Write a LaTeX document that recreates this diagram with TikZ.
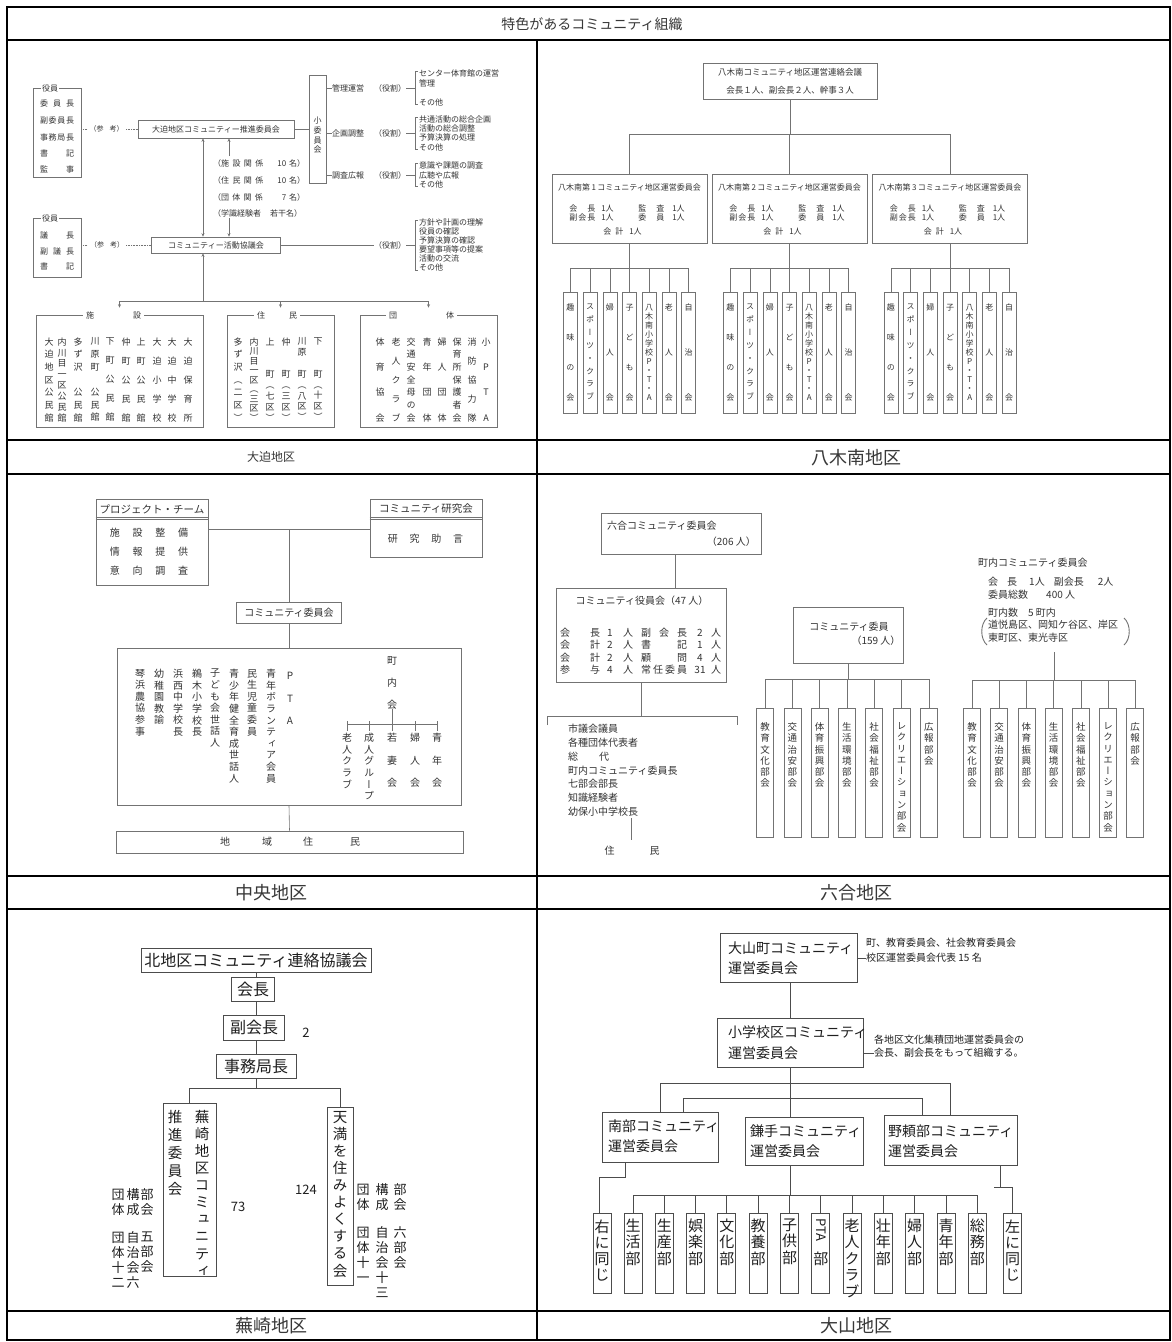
\documentclass[tikz,border=0pt]{standalone}
\usepackage{fontspec}
\setmainfont{Noto Sans CJK JP}
\newfontfamily\vjp[RawFeature=+vert]{Noto Sans CJK JP}
\usetikzlibrary{arrows.meta}
\definecolor{lnc}{gray}{0.45}
\definecolor{txc}{gray}{0.2}
\definecolor{lnc2}{gray}{0.3}
\definecolor{txc2}{gray}{0.12}
\definecolor{capc}{gray}{0.22}
\def\vsend{VSEND}
\protected\def\gp{\hbox{}}
\newcount\vcn
\def\vcount#1{\global\vcn=0 \vcountA#1\vsend}
\def\vcountA#1{\ifx#1\vsend\else\global\advance\vcn by 1 \expandafter\vcountA\fi}
\def\vcsplit#1{\vcsplitA#1\vsend}
\def\vcsplitA#1#2{#1\ifx#2\vsend\else\\\expandafter\vcsplitA\expandafter#2\fi}
\def\justA#1#2{#1\ifx#2\vsend\else\hfill\expandafter\justA\expandafter#2\fi}
\newcommand\justB[2]{\makebox[#2][s]{\justA#1\vsend}}
\newcommand\just[2]{\edef\jtmp{#2}\expandafter\justB\expandafter{\jtmp}{#1}}
\newcommand\vcolB[6]{\edef\vctmp{#6}%
  \node[vt, font={\vjp\fontsize{#5}{#4}\selectfont\lineskiplimit=-50pt\lineskip=0pt}, anchor=north] (#1) at ({#2},{#3-0.5*(#5)}) {\expandafter\vcsplit\expandafter{\vctmp}};}
\newcommand\vcol[6]{\edef\vctmp{#6}%
  \expandafter\vcount\expandafter{\vctmp}%
  \pgfmathsetmacro\vbs{((#4)-(#3))/max(\the\vcn-1,1)}%
  \vcolB{#1}{#2}{#3}{\vbs}{#5}{#6}}
\tikzset{
  fs/.style={font=\fontsize{#1}{#1}\selectfont},
  ln/.style={draw=lnc, line width=0.6pt},
  ln2/.style={draw=lnc2, line width=0.9pt},
  bx/.style={draw=lnc, line width=0.6pt, inner sep=0pt},
  bx2/.style={draw=lnc2, line width=0.9pt, inner sep=0pt},
  tt/.style={inner sep=0pt},
  vt/.style={inner sep=0pt, align=center},
  grid/.style={draw=black, line width=1.3pt},
  captxt/.style={inner sep=0pt, text=capc},
  >={Stealth[length=3.5pt,width=3pt]},
}
\begin{document}
\begin{tikzpicture}[x=1pt,y=-1pt]
\useasboundingbox (0,0) rectangle (1172,1342);
\fill[white] (0,0) rectangle (1172,1342);

\begin{scope}[every node/.style={text=txc}]
%================ Panel 1 : 大迫地区 ================
\node[bx, minimum width=48pt, minimum height=89pt] (yk1) at (57,132.5) {};
\node[tt, fill=white, fs=8, inner xsep=1pt] (yk1t) at (50,88) {役員};
\foreach \t/\y [count=\i] in {委員長/103, 副委員長/120, 事務局長/137, 書記/153, 監事/169}
  \node[tt, fs=8] (yka\i) at (57,\y) {\just{34pt}{\t}};
\node[bx, fs=8, minimum width=156pt, minimum height=18pt] (b1) at (216,129) {大迫地区コミュニティー推進委員会};
\draw[ln, densely dotted] (yk1.east |- b1.west) -- node[pos=0.45, tt, fill=white, fs=7, inner xsep=2pt] {（参\hspace{6pt}考）} (b1.west);

\node[bx, minimum width=17pt, minimum height=108pt] (sc) at (317.5,129) {};
\vcol{scv}{317.5}{121}{150}{8}{小委員会}
\draw[ln] (b1.east) -- (sc.west);
\foreach \y/\a in {88/管理運営, 133/企画調整, 175/調査広報} {
  \draw[ln] (sc.east |- 0,\y) -- (332,\y);
  \node[tt, fs=8] at (348,\y) {\a};
  \node[tt, fs=8] at (390,\y) {（役割）};
  \draw[ln] (406,\y) -- (415,\y);
}
\foreach \ya/\yb in {71/104, 117/149, 163/186, 220/270}
  \draw[ln] (418,\ya) -- (415,\ya) -- (415,\yb) -- (418,\yb);
\foreach \t/\y in {センター体育館の運営/73, 管理/83, その他/102, 共通活動の総合企画/119, 活動の総合調整/128, 予算決算の処理/137, その他/147, 意識や課題の調査/165, 広聴や広報/175, その他/184, 方針や計画の理解/222, 役員の確認/231, 予算決算の確認/240, 要望事項等の提案/249, 活動の交流/258, その他/267}
  \node[tt, fs=8, anchor=west] at (419,\y) {\t};

\node[tt, fs=8, anchor=west] (m1) at (213,163) {\makebox[92pt][s]{（施\hfill 設\hfill 関\hfill 係\hspace{14pt}10\hspace{3pt}名）}};
\node[tt, fs=8, anchor=west] (m2) at (213,180) {\makebox[92pt][s]{（住\hfill 民\hfill 関\hfill 係\hspace{14pt}10\hspace{3pt}名）}};
\node[tt, fs=8, anchor=west] (m3) at (213,197) {\makebox[92pt][s]{（団\hfill 体\hfill 関\hfill 係\hspace{19pt}7\hspace{3pt}名）}};
\node[tt, fs=8, anchor=west] (m4) at (213,213) {（学識経験者\hspace{9pt}若干名）};

\node[bx, fs=8, minimum width=129pt, minimum height=16pt] (b2) at (216,245) {コミュニティー活動協議会};
\draw[ln,<->] ([xshift=-13pt]b1.south) -- ([xshift=-13pt]b2.north);
\draw[ln,->] (229,156) -- ([xshift=13pt]b1.south);
\draw[ln,->] (229,218) -- ([xshift=13pt]b2.north);

\node[bx, minimum width=48pt, minimum height=59pt] (yk2) at (57,247.5) {};
\node[tt, fill=white, fs=8, inner xsep=1pt] (yk2t) at (50,218) {役員};
\foreach \t/\y [count=\i] in {議長/235, 副議長/251, 書記/266}
  \node[tt, fs=8] (ykb\i) at (57,\y) {\just{34pt}{\t}};
\draw[ln, densely dotted] (yk2.east |- b2.west) -- node[pos=0.37, tt, fill=white, fs=7, inner xsep=2pt] {（参\hspace{6pt}考）} (b2.west);
\draw[ln] (b2.east) -- (374,245);
\node[tt, fs=8] at (390,245) {（役割）};
\draw[ln] (406,245) -- (415,245);

\node[bx, minimum width=167pt, minimum height=112pt] (sets) at (119.5,371) {};
\node[bx, minimum width=107pt, minimum height=112pt] (jum) at (280.5,371) {};
\node[bx, minimum width=137pt, minimum height=112pt] (dan) at (428.5,371) {};
\node[tt, fs=8, fill=white, inner xsep=3pt] (setst) at (113.5,315) {施\hspace{39pt}設};
\node[tt, fs=8, fill=white, inner xsep=3pt] (jumt) at (277,315) {住\hspace{24pt}民};
\node[tt, fs=8, fill=white, inner xsep=3pt] (dant) at (421.5,315) {団\hspace{49pt}体};
\coordinate (hb) at (203,301);
\draw[ln,<-] ([xshift=-13pt]b2.south) -- (hb);
\draw[ln] (sets.north |- hb) -- (dan.north |- hb);
\foreach \b in {sets,jum,dan} \draw[ln,->] (\b.north |- hb) -- ([yshift=7pt]\b.north);

\vcol{s1}{49}{342}{418}{9}{大迫地区公民館}
\vcol{s2}{62}{342}{418}{9}{内川目一区公民館}
\vcol{s3}{78}{342}{418}{9}{多ず沢\gp 公民館}
\vcol{s4}{95}{342}{418}{9}{川原町\gp 公民館}
\vcol{s5}{110}{342}{418}{9}{下町公民館}
\vcol{s6}{126}{342}{418}{9}{仲町公民館}
\vcol{s7}{141}{342}{418}{9}{上町公民館}
\vcol{s8}{157}{342}{418}{9}{大迫小学校}
\vcol{s9}{172}{342}{418}{9}{大迫中学校}
\vcol{s10}{188}{342}{418}{9}{大迫保育所}

\vcol{j1}{238}{342}{418}{9}{多ず沢（二区）}
\vcol{j2}{254}{342}{418}{9}{内川目一区（三区）}
\vcol{j3}{270}{342}{418}{9}{上\gp\gp 町（七区）}
\vcol{j4}{286}{342}{418}{9}{仲\gp\gp 町（三区）}
\vcol{j5}{302}{342}{418}{9}{川原\gp 町（八区）}
\vcol{j6}{318}{342}{418}{9}{下\gp\gp 町（十区）}

\vcol{d1}{380}{342}{418}{9}{体育協会}
\vcol{d2}{396}{342}{418}{9}{老人クラブ}
\vcol{d3}{411}{342}{418}{9}{交通安全母の会}
\vcol{d4}{427}{342}{418}{9}{青年団体}
\vcol{d5}{442}{342}{418}{9}{婦人団体}
\vcol{d6}{457}{342}{418}{9}{保育所保護者会}
\vcol{d7}{472}{342}{418}{9}{消防協力隊}
\vcol{d8}{486}{342}{418}{9}{小PTA}

%================ Panel 2 : 八木南地区 ================
\node[bx, minimum width=174pt, minimum height=36pt, align=center, font=\fontsize{8.5}{18}\selectfont] (yt) at (790,81) {八木南コミュニティ地区運営連絡会議\\会長１人、副会長２人、幹事３人};
\coordinate (ytb) at (790,134);
\draw[ln] (yt.south) -- (ytb);
\foreach \n/\cx in {1/629.5, 2/789.5, 3/950} {
  \node[bx, minimum width=155pt, minimum height=69pt] (yb\n) at (\cx,208.5) {};
  \draw[ln] (yb\n.north) -- (yb\n.north |- ytb);
  \node[tt, fs=8] (ybt\n) at (\cx,187) {八木南第\,\n\,コミュニティ地区運営委員会};
  \node[tt, fs=8] at (\cx-38,208) {\just{26pt}{会長}\hspace{6pt}1人};
  \node[tt, fs=8] at (\cx+32,208) {\just{26pt}{監査}\hspace{8pt}1人};
  \node[tt, fs=8] at (\cx-38,217) {\just{26pt}{副会長}\hspace{6pt}1人};
  \node[tt, fs=8] at (\cx+32,217) {\just{26pt}{委員}\hspace{8pt}1人};
  \node[tt, fs=8] at (\cx-7,231) {\just{20pt}{会計}\hspace{6pt}1人};
  \coordinate (ycb\n) at (\cx,268);
  \draw[ln] (yb\n.south) -- (ycb\n);
  \draw[ln] ({\cx-59},268) -- ({\cx+59},268);
  \foreach \lab [count=\k] in {趣味の会, スポーツ・クラブ, 婦人会, 子ども会, 八木南小学校P・T・A, 老人会, 自治会} {
    \node[bx, minimum width=14pt, minimum height=121pt] (yc\n\k) at ({\cx+(\k-4)*19.7},352.5) {};
    \draw[ln] (yc\n\k.north) -- (yc\n\k.north |- ycb\n);
    \vcol{ycv\n\k}{\cx+(\k-4)*19.7}{308}{398}{8}{\lab}
  }
}
\draw[ln] (yb1.north |- ytb) -- (yb3.north |- ytb);

%================ Panel 3 : 中央地区 ================
\node[bx, minimum width=112pt, minimum height=86pt] (pt) at (152,542) {};
\node[tt, fs=10.5] (ptt) at (152,509) {プロジェクト・チーム};
\draw[ln] (pt.west |- 0,517.2) -- (pt.east |- 0,517.2);
\draw[ln] (pt.west |- 0,519.4) -- (pt.east |- 0,519.4);
\node[tt, fs=10] (pt1) at (149,533) {施\hspace{12.7pt}設\hspace{12.7pt}整\hspace{12.7pt}備};
\node[tt, fs=10] (pt2) at (149,552) {情\hspace{12.7pt}報\hspace{12.7pt}提\hspace{12.7pt}供};
\node[tt, fs=10] (pt3) at (149,571) {意\hspace{12.7pt}向\hspace{12.7pt}調\hspace{12.7pt}査};
\node[bx, minimum width=112pt, minimum height=58pt] (rs) at (426,528) {};
\node[tt, fs=10.5] (rst) at (426,509) {コミュニティ研究会};
\draw[ln] (rs.west |- 0,517.2) -- (rs.east |- 0,517.2);
\draw[ln] (rs.west |- 0,519.4) -- (rs.east |- 0,519.4);
\node[tt, fs=10] (rs1) at (425.5,539) {研\hspace{11.7pt}究\hspace{11.7pt}助\hspace{11.7pt}言};
\coordinate (j3) at (289,529);
\draw[ln] (pt.east |- j3) -- (rs.west |- j3);
\node[bx, fs=10, minimum width=105pt, minimum height=21pt] (cc) at (289,612.5) {コミュニティ委員会};
\draw[ln] (j3) -- (cc.north);
\node[bx, minimum width=344pt, minimum height=157pt] (bb) at (289,726.5) {};
\draw[ln] (cc.south) -- (bb.north);
\node[bx, minimum width=347pt, minimum height=22pt] (ch) at (289.5,842) {};
\node[tt, fs=10] (cht) at (290,842) {地\hspace{32pt}域\hspace{31pt}住\hspace{37pt}民};
\draw[ln] (bb.south) -- (ch.north);
\vcolB{c1}{140}{674}{11.6}{10}{琴浜農協参事}
\vcolB{c2}{159}{674}{11.6}{10}{幼稚園教諭}
\vcolB{c3}{178}{674}{11.6}{10}{浜西中学校長}
\vcolB{c4}{197}{674}{11.6}{10}{鵜木小学校長}
\vcolB{c5}{215}{674}{11.6}{10}{子ども会世話人}
\vcolB{c6}{234}{674}{11.6}{10}{青少年健全育成世話人}
\vcolB{c7}{252}{674}{11.6}{10}{民生児童委員}
\vcolB{c8}{271}{674}{11.6}{10}{青年ボランティア会員}
\vcolB{c9}{290}{677}{22.5}{10}{PTA}
\vcolB{ck}{392}{661}{22}{10}{町内会}
\coordinate (ckb) at (392,724);
\draw[ln] (ck.south) -- (ckb);
\draw[ln] (347,724) -- (437,724);
\foreach \xx in {347,369,392,415,437} \draw[ln] (\xx,721) -- (\xx,731);
\vcolB{cc1}{347}{738}{11.6}{10}{老人クラブ}
\vcolB{cc2}{369}{738}{11.6}{10}{成人グループ}
\vcolB{cc3}{392}{738}{22.5}{10}{若妻会}
\vcolB{cc4}{415}{738}{22.5}{10}{婦人会}
\vcolB{cc5}{437}{738}{22.5}{10}{青年会}

%================ Panel 4 : 六合地区 ================
\node[bx, minimum width=160pt, minimum height=41pt] (r1) at (681,533.5) {};
\node[tt, fs=10, anchor=west] (r1a) at (607,526) {六合コミュニティ委員会};
\node[tt, fs=10, anchor=east] (r1b) at (756,542) {（206 人）};
\node[bx, minimum width=170pt, minimum height=94pt] (r2) at (641,635) {};
\coordinate (r1c) at (675,554);
\draw[ln] (r1c) -- (r1c |- r2.north);
\node[tt, fs=10] (r2t) at (642,601) {コミュニティ役員会（47 人）};
\foreach \y/\a/\an/\b/\bn in {633/会長/1/副会長/2, 645/会計/2/書記/1, 658/会計/2/顧問/4, 670/参与/4/常任委員/31} {
  \node[tt, fs=10, anchor=west] at (560,\y) {\just{40pt}{\a}};
  \node[tt, fs=10] at (610,\y) {\an};
  \node[tt, fs=10] at (628,\y) {人};
  \node[tt, fs=10, anchor=west] at (641,\y) {\just{46pt}{\b}};
  \node[tt, fs=10] at (700,\y) {\bn};
  \node[tt, fs=10] at (716,\y) {人};
}
\coordinate (r2b) at (641,716);
\draw[ln] (r2.south) -- (r2b);
\draw[ln] (547,725) -- (547,716) -- (737,716) -- (737,725);
\node[tt, anchor=north west, align=left, font=\fontsize{10}{13.8}\selectfont] (r2l) at (568,724) {市議会議員\\各種団体代表者\\総\hspace{21pt}代\\町内コミュニティ委員長\\七部会部長\\知識経験者\\幼保小中学校長};
\coordinate (jl) at (631,818);
\draw[ln] (jl) -- ++(0,22);
\node[tt, fs=10] (jlt) at (632,851) {住\hspace{35pt}民};

\node[bx, minimum width=110pt, minimum height=56pt] (r3) at (848,635) {};
\node[tt, fs=10] (r3a) at (849,627) {コミュニティ委員};
\node[tt, fs=10] (r3n) at (876,641) {（159 人）};
\coordinate (r3b) at (848,679);
\draw[ln] (r3.south) -- (r3b);
\foreach \lab [count=\k] in {教育文化部会, 交通治安部会, 体育振興部会, 生活環境部会, 社会福祉部会, レクリエーション部会, 広報部会} {
  \node[bx, minimum width=17pt, minimum height=129pt] (p\k) at ({765+(\k-1)*27.3},772.5) {};
  \draw[ln] (p\k.north) -- (p\k.north |- r3b);
  \vcolB{pv\k}{765+(\k-1)*27.3}{727}{11.3}{9.5}{\lab}
}
\draw[ln] (p1.north |- r3b) -- (p7.north |- r3b);

\node[tt, fs=10, anchor=west] (q0a) at (978,563) {町内コミュニティ委員会};
\node[tt, fs=10, anchor=west] (q0b) at (988,582) {会\hspace{9pt}長\hspace{12pt}1人\hspace{9pt}副会長\hspace{14pt}2人};
\node[tt, fs=10, anchor=west] (q0c) at (988,595) {委員総数\hspace{18pt}400 人};
\node[tt, fs=10, anchor=west] (q0d) at (988,613) {町内数\hspace{10pt}5 町内};
\node[tt, fs=10, anchor=west] (q0e) at (988,625) {道悦島区、岡知ケ谷区、岸区};
\node[tt, fs=10, anchor=west] (q0f) at (988,638) {東町区、東光寺区};
\draw[ln, line width=0.9pt] (987,618) .. controls (980,624) and (980,639) .. (987,645);
\draw[ln, line width=0.9pt] (1124,618) .. controls (1131,624) and (1131,639) .. (1124,645);
\coordinate (qt) at (1054,652);
\coordinate (qb) at (1054,680);
\draw[ln] (qt) -- (qb);
\foreach \lab [count=\k] in {教育文化部会, 交通治安部会, 体育振興部会, 生活環境部会, 社会福祉部会, レクリエーション部会, 広報部会} {
  \node[bx, minimum width=17pt, minimum height=129pt] (q\k) at ({972+(\k-1)*27.2},772.5) {};
  \draw[ln] (q\k.north) -- (q\k.north |- qb);
  \vcolB{qv\k}{972+(\k-1)*27.2}{727}{11.3}{9.5}{\lab}
}
\draw[ln] (q1.north |- qb) -- (q7.north |- qb);
\end{scope}

\begin{scope}[every node/.style={text=txc2}]
%================ Panel 5 : 蕪崎地区 ================
\node[bx2, fs=16, minimum width=230pt, minimum height=24pt] (k1) at (256,960) {北地区コミュニティ連絡協議会};
\node[bx2, fs=16, minimum width=43pt, minimum height=24pt] (k2) at (253,989) {会長};
\node[bx2, fs=16, minimum width=61pt, minimum height=25pt] (k3) at (254,1027.5) {副会長};
\node[bx2, fs=16, minimum width=80pt, minimum height=24pt] (k4) at (256,1066) {事務局長};
\draw[ln2] (k1.south) -- (k1.south |- k2.north);
\draw[ln2] (k1.south |- k2.south) -- (k1.south |- k3.north);
\draw[ln2] (k1.south |- k3.south) -- (k4.north);
\node[tt, fs=13] (k3n) at (306,1033) {2};
\node[bx2, minimum width=53pt, minimum height=173pt] (kl) at (189.5,1189.5) {};
\node[bx2, minimum width=26pt, minimum height=178pt] (kr) at (340,1196) {};
\coordinate (kb) at (256,1088);
\draw[ln2] (k4.south) -- (kb);
\draw[ln2] (kl.north) -- (kl.north |- kb) -- (kr.north |- kb) -- (kr.north);
\vcol{kl1}{202}{1117}{1271}{14.5}{蕪崎地区コミュニティ}
\vcol{kl2}{175}{1117}{1189}{14.5}{推進委員会}
\vcol{kr1}{340}{1118}{1272}{14.5}{天満を住みよくする会}
\node[tt, fs=13] (k73) at (238,1207) {73};
\node[tt, fs=13] (k124) at (306,1190) {124};
\vcolB{ka1}{118}{1195}{15}{13}{団体}
\vcolB{ka2}{133}{1195}{15}{13}{構成}
\vcolB{ka3}{147}{1195}{15}{13}{部会}
\vcolB{ka4}{118}{1238}{15}{13}{団体十二}
\vcolB{ka5}{133}{1238}{15}{13}{自治会六}
\vcolB{ka6}{147}{1238}{15}{13}{五部会}
\vcolB{kb1}{363}{1190}{15}{13}{団体}
\vcolB{kb2}{382}{1190}{15}{13}{構成}
\vcolB{kb3}{400}{1190}{15}{13}{部会}
\vcolB{kb4}{363}{1233}{15}{13}{団体十一}
\vcolB{kb5}{382}{1233}{15}{13}{自治会十三}
\vcolB{kb6}{400}{1233}{15}{13}{六部会}

%================ Panel 6 : 大山地区 ================
\node[bx2, minimum width=137pt, minimum height=49pt] (o1) at (788.5,957.5) {};
\node[tt, fs=14, anchor=west] (o1a) at (728,948) {大山町コミュニティ};
\node[tt, fs=14, anchor=west] (o1b) at (728,968) {運営委員会};
\node[tt, fs=10, anchor=west] (o1c) at (866,943) {町、教育委員会、社会教育委員会};
\node[tt, fs=10, anchor=west] (o1d) at (866,958) {校区運営委員会代表 15 名};
\draw[ln2] (o1.east |- o1d) -- (o1d.west);
\node[bx2, minimum width=146pt, minimum height=49pt] (o2) at (790,1042.5) {};
\node[tt, fs=14, anchor=west] (o2a) at (728,1032) {小学校区コミュニティ};
\node[tt, fs=14, anchor=west] (o2b) at (728,1053) {運営委員会};
\node[tt, fs=10, anchor=west] (o2c) at (874,1040) {各地区文化集積団地運営委員会の};
\node[tt, fs=10, anchor=west] (o2d) at (874,1053) {会長、副会長をもって組織する。};
\draw[ln2] (o2.east |- o2d) -- (o2d.west);
\draw[ln2] (o2.north) -- (o2.north |- o1.south);

\node[bx2, minimum width=116pt, minimum height=50pt] (s1) at (660,1137) {};
\node[tt, fs=14, anchor=west] at (608,1126) {南部コミュニティ};
\node[tt, fs=14, anchor=west] at (608,1146) {運営委員会};
\node[bx2, minimum width=118pt, minimum height=48pt] (s2) at (804,1141) {};
\node[tt, fs=14, anchor=west] at (750,1131) {鎌手コミュニティ};
\node[tt, fs=14, anchor=west] at (750,1151) {運営委員会};
\node[bx2, minimum width=133pt, minimum height=50pt] (s3) at (950.5,1140) {};
\node[tt, fs=14, anchor=west] at (888,1131) {野頼部コミュニティ};
\node[tt, fs=14, anchor=west] at (888,1151) {運営委員会};
\coordinate (ob) at (790,1083);
\coordinate (ib) at (790,1098);
\draw[ln2] (o2.south) -- (o2.south |- s2.north);
\draw[ln2] (s1.north) |- (ob) -| (s3.north);
\draw[ln2] ([xshift=23pt]s1.north) |- (ib) -| ([xshift=-28.5pt]s3.north);

\coordinate (gb) at (790,1195);
\draw[ln2] (gb |- s2.south) -- (gb);
\foreach \lab [count=\k] in {生活部,生産部,娯楽部,文化部,教養部,子供部,PTA部,老人クラブ,壮年部,婦人部,青年部,総務部} {
  \node[bx2, minimum width=18pt, minimum height=80pt] (g\k) at ({633+(\k-1)*31.3},1253) {};
  \draw[ln2] (g\k.north) -- (g\k.north |- gb);
  \ifnum\k=7\relax
    \node[tt, fs=13, rotate=-90] (gpta) at ({633+(\k-1)*31.3},1230) {PTA};
    \node[tt, fs=15] (gbu) at ({633+(\k-1)*31.3},1259) {部};
  \else
    \vcolB{gv\k}{633+(\k-1)*31.3}{1226}{16.5}{15}{\lab}
  \fi
}
\draw[ln2] (g1.north |- gb) -- (g12.north |- gb);
\node[bx2, minimum width=18pt, minimum height=80pt] (migi) at (602,1253) {};
\vcolB{migiv}{602}{1227}{16}{15}{右に同じ}
\draw[ln2] ([xshift=-35pt]s1.south) -- ++(0,15) -| ([xshift=-3pt]migi.north);
\node[bx2, minimum width=18pt, minimum height=80pt] (hid) at (1012.5,1253) {};
\vcolB{hidv}{1012.5}{1227}{16}{15}{左に同じ}
\draw[ln2] ([xshift=49.5pt]s3.south) -- ++(0,22) coordinate (hk) -| (hid.north);
\draw[ln2] (hk) -- ++(-6,0);
\end{scope}

%================ table grid & captions ================
\draw[grid] (7,7) rectangle (1170,1340);
\foreach \y in {40,440,474,876,909,1311} \draw[grid] (7,\y) -- (1170,\y);
\draw[grid] (537,40) -- (537,1340);
\node[captxt, fs=14] (title) at (592,24) {特色があるコミュニティ組織};
\node[captxt, fs=12] (cap1) at (271,457) {大迫地区};
\node[captxt, fs=18] (cap2) at (856,458) {八木南地区};
\node[captxt, fs=18] (cap3) at (271,893) {中央地区};
\node[captxt, fs=18] (cap4) at (856,893) {六合地区};
\node[captxt, fs=18] (cap5) at (271,1326) {蕪崎地区};
\node[captxt, fs=18] (cap6) at (856,1326) {大山地区};
\end{tikzpicture}
\end{document}
